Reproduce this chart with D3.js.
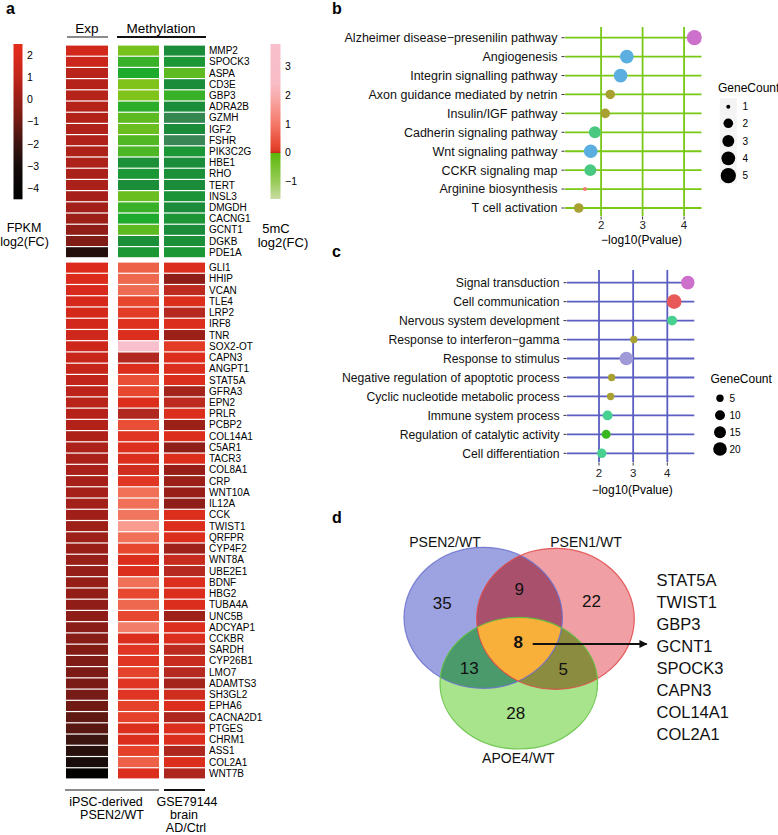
<!DOCTYPE html>
<html>
<head>
<meta charset="utf-8">
<script src="https://cdn.jsdelivr.net/npm/d3@7"></script>
<style>
  body { margin: 0; background: #fff; }
  svg { font-family: "Liberation Sans", Arial, Helvetica, sans-serif; }
</style>
</head>
<body>
<svg id="fig" width="778" height="835"></svg>
<script>
// ---------- panel a : heatmap ----------
var genesUp = ["MMP2","SPOCK3","ASPA","CD3E","GBP3","ADRA2B","GZMH","IGF2","FSHR","PIK3C2G",
  "HBE1","RHO","TERT","INSL3","DMGDH","CACNG1","GCNT1","DGKB","PDE1A"];
var expUp = [1.6,1.4,0.8,0.7,0.75,0.7,0.65,0.6,0.6,0.55,0.5,0.45,0.45,0.35,0.25,0.1,-0.2,-0.6,-2.6];
var methIpscUp = [-0.25,-0.5,-0.6,-0.22,-0.22,-0.55,-0.35,-0.3,-0.4,-0.42,-0.95,-0.85,-0.98,-0.3,-0.5,-0.6,-0.35,-0.95,-0.85];
var methBrainUp = [-1.0,-0.85,-0.35,-1.0,-0.5,-1.0,-1.35,-1.0,-1.42,-0.85,-1.0,-0.95,-1.0,-0.9,-1.0,-0.88,-1.0,-0.95,-0.85];

var genesDown = ["GLI1","HHIP","VCAN","TLE4","LRP2","IRF8","TNR","SOX2-OT","CAPN3","ANGPT1",
  "STAT5A","GFRA3","EPN2","PRLR","PCBP2","COL14A1","C5AR1","TACR3","COL8A1","CRP",
  "WNT10A","IL12A","CCK","TWIST1","QRFPR","CYP4F2","WNT8A","UBE2E1","BDNF","HBG2",
  "TUBA4A","UNC5B","ADCYAP1","CCKBR","SARDH","CYP26B1","LMO7","ADAMTS3","SH3GL2","EPHA6",
  "CACNA2D1","PTGES","CHRM1","ASS1","COL2A1","WNT7B"];
var expDown = [2.0,2.0,1.9,1.8,1.7,1.6,1.5,1.45,1.3,1.2,
  1.0,0.9,0.8,0.7,0.65,0.55,0.5,0.45,0.4,0.35,
  0.3,0.25,0.2,0.15,0.1,0.05,0.0,-0.05,-0.08,-0.12,
  -0.2,-0.25,-0.35,-0.4,-0.5,-0.6,-0.7,-0.75,-0.85,-1.0,
  -1.3,-1.45,-2.0,-2.5,-2.9,-4.3];
var methIpscDown = [1.3,1.4,1.45,0.95,0.8,0.65,0.6,3.2,0.3,0.6,
  1.05,0.95,0.6,0.3,1.05,0.7,0.62,0.6,0.5,0.72,
  1.5,1.5,1.6,2.2,1.5,0.95,0.6,0.6,1.5,0.95,
  1.4,0.95,1.7,0.6,0.7,0.7,0.88,0.7,0.7,0.85,
  0.85,0.6,0.6,0.85,1.3,0.6];
var methBrainDown = [0.6,0.05,0.38,0.6,0.33,0.6,0.15,0.8,0.6,0.6,
  0.6,0.22,0.38,0.6,0.15,0.6,0.05,0.6,0.12,0.15,
  0.12,0.05,0.6,0.6,0.6,0.18,0.45,0.33,0.6,0.6,
  0.6,0.18,0.62,0.6,0.38,0.45,0.33,0.22,0.5,0.6,
  0.28,0.6,0.6,0.28,0.6,0.28];

var expTicks = [2,1,0,-1,-2,-3,-4];
var methTicks = [3,2,1,0,-1];

// ---------- panel b : PANTHER pathways ----------
var pathTerms = ["Alzheimer disease\u2212presenilin pathway","Angiogenesis","Integrin signalling pathway",
  "Axon guidance mediated by netrin","Insulin/IGF pathway","Cadherin signaling pathway",
  "Wnt signaling pathway","CCKR signaling map","Arginine biosynthesis","T cell activation"];
var pathLogP = [4.25,2.62,2.47,2.22,2.1,1.85,1.75,1.74,1.61,1.46];
var pathCount = [5,4,4,2,2,3,4,3,1,2];
var pathCountTicks = [1,2,3,4,5];

// ---------- panel c : GO processes ----------
var goTerms = ["Signal transduction","Cell communication","Nervous system development",
  "Response to interferon\u2212gamma","Response to stimulus","Negative regulation of apoptotic process",
  "Cyclic nucleotide metabolic process","Immune system process","Regulation of catalytic activity",
  "Cell differentiation"];
var goLogP = [4.6,4.2,4.14,3.02,2.8,2.37,2.34,2.25,2.21,2.08];
var goCount = [20,23,10,5,20,5,5,10,8,9];
var goCountTicks = [5,10,15,20];
var pTicks = [2,3,4];

// ---------- panel d : venn ----------
var vennSets = ["PSEN2/WT","PSEN1/WT","APOE4/WT"];
var vennRegions = ["PSEN2","PSEN1","APOE4","PSEN2&PSEN1","PSEN2&APOE4","PSEN1&APOE4","all"];
var vennCounts = [35,22,28,9,13,5,8];
var sharedGenes = ["STAT5A","TWIST1","GBP3","GCNT1","SPOCK3","CAPN3","COL14A1","COL2A1"];

// styles
var pathColors = ["#cc70cc","#5aaee0","#5aaee0","#a8a030","#a8a030","#48c880","#5aaee0","#48c880","#f87878","#a8a030"];
var goColors = ["#cc70cc","#e85858","#48d090","#a8a030","#a09ad8","#a8a030","#a8a030","#48d090","#38b820","#48d090"];

var svg = d3.select("#fig");
var defs = svg.append("defs");

function panelLabel(txt, x, y) {
  svg.append("text").attr("x", x).attr("y", y).attr("font-size", 16)
    .attr("font-weight", "bold").text(txt);
}

// ================= PANEL A =================
panelLabel("a", 6, 14);

var expColor = d3.scaleLinear()
  .domain([-4.49,-3,-2,-1,0,1,2,2.5])
  .range(["#000000","#140c0a","#3c1410","#701a14","#981e18","#c0241a","#dc2a1c","#e42c1c"]);
var methColor = d3.scaleLinear()
  .domain([-1.45,-1.0,-0.6,-0.2,-0.001,0,0.15,0.3,0.45,0.6,1.0,1.5,2.2,3.2])
  .range(["#3c8656","#1a8c3a","#1eaa2c","#84c41a","#84c41a","#8a1c18","#9a2018","#b02820",
          "#c82c1e","#dc2e1c","#e84a32","#f07058","#f89c90","#f8c0cc"]);

var cols = [
  {key: "exp", x0: 66, x1: 108, color: expColor},
  {key: "ipsc", x0: 118, x1: 159, color: methColor},
  {key: "brain", x0: 164, x1: 205, color: methColor}
];

function heatBlock(genes, vals, y0, y1) {
  var y = d3.scaleBand().domain(genes).range([y0, y1]);
  var g = svg.append("g");
  cols.forEach(function (c, ci) {
    g.selectAll(null).data(genes).enter().append("rect")
      .attr("x", c.x0).attr("width", c.x1 - c.x0)
      .attr("y", function (d) { return y(d) + 0.6; })
      .attr("height", y.bandwidth() - 1.2)
      .attr("fill", function (d, i) { return c.color(vals[ci][i]); });
  });
  g.selectAll(null).data(genes).enter().append("text")
    .attr("x", 209).attr("y", function (d) { return y(d) + y.bandwidth() / 2; })
    .attr("dy", "0.35em").attr("font-size", 10).text(function (d) { return d; });
}
heatBlock(genesUp, [expUp, methIpscUp, methBrainUp], 45, 257.8);
heatBlock(genesDown, [expDown, methIpscDown, methBrainDown], 262, 779);

// headers
svg.append("text").attr("x", 87).attr("y", 28).attr("dy", "0.35em").attr("text-anchor", "middle")
  .attr("font-size", 13.5).text("Exp");
svg.append("text").attr("x", 161).attr("y", 28).attr("dy", "0.35em").attr("text-anchor", "middle")
  .attr("font-size", 13.5).text("Methylation");
svg.append("line").attr("x1", 67).attr("x2", 108).attr("y1", 37).attr("y2", 37)
  .attr("stroke", "#8a8a8a").attr("stroke-width", 2);
svg.append("line").attr("x1", 117).attr("x2", 206).attr("y1", 37).attr("y2", 37)
  .attr("stroke", "#111").attr("stroke-width", 2);

// footers
svg.append("line").attr("x1", 65).attr("x2", 159).attr("y1", 790).attr("y2", 790)
  .attr("stroke", "#8a8a8a").attr("stroke-width", 2);
svg.append("line").attr("x1", 164).attr("x2", 205).attr("y1", 790).attr("y2", 790)
  .attr("stroke", "#111").attr("stroke-width", 2);
[["iPSC-derived", 106, 801.5], ["PSEN2/WT", 112, 815], ["GSE79144", 187, 801.5], ["brain", 184, 815], ["AD/Ctrl", 186, 827.5]]
  .forEach(function (t) {
    svg.append("text").attr("x", t[1]).attr("y", t[2]).attr("dy", "0.35em").attr("text-anchor", "middle")
      .attr("font-size", 12.5).text(t[0]);
  });

// legends
var expLegY = d3.scaleLinear().domain([2.5, -4.49]).range([44, 199.3]);
var gExp = defs.append("linearGradient").attr("id", "gradExp").attr("x1", 0).attr("x2", 0).attr("y1", 0).attr("y2", 1);
d3.range(0, 1.0001, 0.05).forEach(function (t) {
  gExp.append("stop").attr("offset", t).attr("stop-color", expColor(expLegY.invert(44 + t * (199.3 - 44))));
});
svg.append("rect").attr("x", 13.5).attr("y", 44).attr("width", 9).attr("height", 155.3).attr("fill", "url(#gradExp)");
svg.selectAll(null).data(expTicks).enter().append("text")
  .attr("x", 27).attr("y", function (d) { return expLegY(d); }).attr("dy", "0.35em")
  .attr("font-size", 10.5).text(d3.format("d"));
svg.append("text").attr("x", 24).attr("y", 228).attr("dy", "0.35em").attr("text-anchor", "middle").attr("font-size", 12.5).text("FPKM");
svg.append("text").attr("x", 24.5).attr("y", 242).attr("dy", "0.35em").attr("text-anchor", "middle").attr("font-size", 12.5).text("log2(FC)");

var methLegY = d3.scaleLinear().domain([3.79, -1.61]).range([44, 199]);
var methLegStops = [[3.79,"#f8c0cc"],[2.4,"#f8bcc6"],[2,"#f8aeae"],[1,"#f47868"],[0.3,"#e84a36"],
  [0.06,"#d83a24"],[0.0,"#c02818"],[-0.02,"#5cb80c"],[-1,"#98cc58"],[-1.61,"#cadca4"]];
var gMeth = defs.append("linearGradient").attr("id", "gradMeth").attr("x1", 0).attr("x2", 0).attr("y1", 0).attr("y2", 1);
methLegStops.forEach(function (s) {
  gMeth.append("stop").attr("offset", (methLegY(s[0]) - 44) / 155).attr("stop-color", s[1]);
});
svg.append("rect").attr("x", 270.5).attr("y", 44).attr("width", 10).attr("height", 155).attr("fill", "url(#gradMeth)");
svg.selectAll(null).data(methTicks).enter().append("text")
  .attr("x", 285).attr("y", function (d) { return methLegY(d); }).attr("dy", "0.35em")
  .attr("font-size", 10.5).text(d3.format("d"));
svg.append("text").attr("x", 276).attr("y", 228).attr("dy", "0.35em").attr("text-anchor", "middle").attr("font-size", 13).text("5mC");
svg.append("text").attr("x", 283).attr("y", 242).attr("dy", "0.35em").attr("text-anchor", "middle").attr("font-size", 13).text("log2(FC)");

// ================= PANELS B & C =================
function dotPanel(cfg) {
  var x = d3.scaleLinear().domain(cfg.xDomain).range([cfg.x0, cfg.x1]);
  var y = d3.scalePoint().domain(cfg.terms).range([cfg.y0, cfg.y1]);
  var g = svg.append("g");
  var clipId = "clip" + cfg.name;
  defs.append("clipPath").attr("id", clipId).append("rect")
    .attr("x", cfg.x0).attr("y", cfg.top).attr("width", cfg.x1 - cfg.x0).attr("height", cfg.bottom - cfg.top);

  g.selectAll(null).data(cfg.terms).enter().append("line")
    .attr("x1", cfg.x0).attr("x2", cfg.x1)
    .attr("y1", function (d) { return y(d); }).attr("y2", function (d) { return y(d); })
    .attr("stroke", cfg.lineColor).attr("stroke-width", 1.8);
  g.selectAll(null).data(cfg.ticks).enter().append("line")
    .attr("x1", function (d) { return x(d); }).attr("x2", function (d) { return x(d); })
    .attr("y1", cfg.top).attr("y2", cfg.bottom)
    .attr("stroke", cfg.lineColor).attr("stroke-width", 1.8);
  // axis ticks
  g.selectAll(null).data(cfg.terms).enter().append("line")
    .attr("x1", cfg.x0 - 3.5).attr("x2", cfg.x0 - 0.5)
    .attr("y1", function (d) { return y(d); }).attr("y2", function (d) { return y(d); })
    .attr("stroke", "#333").attr("stroke-width", 1);
  g.selectAll(null).data(cfg.ticks).enter().append("line")
    .attr("x1", function (d) { return x(d); }).attr("x2", function (d) { return x(d); })
    .attr("y1", cfg.bottom + 0.5).attr("y2", cfg.bottom + 3.5)
    .attr("stroke", "#333").attr("stroke-width", 1);
  g.selectAll(null).data(cfg.terms).enter().append("text")
    .attr("x", cfg.x0 - 7.5).attr("y", function (d) { return y(d); }).attr("dy", "0.35em")
    .attr("text-anchor", "end").attr("font-size", cfg.labelSize).attr("fill", "#111").text(function (d) { return d; });
  g.selectAll(null).data(cfg.ticks).enter().append("text")
    .attr("x", function (d) { return x(d); }).attr("y", cfg.tickY).attr("dy", "0.35em")
    .attr("text-anchor", "middle").attr("font-size", 11.5).attr("fill", "#222").text(function (d) { return d; });
  g.append("text").attr("x", (x(2) + x(4)) / 2 - 1).attr("y", cfg.titleY).attr("dy", "0.35em")
    .attr("text-anchor", "middle").attr("font-size", 12).text("\u2212log10(Pvalue)");

  g.append("g").attr("clip-path", "url(#" + clipId + ")")
    .selectAll("circle").data(cfg.terms).enter().append("circle")
    .attr("cx", function (d, i) { return x(cfg.logP[i]); })
    .attr("cy", function (d) { return y(d); })
    .attr("r", function (d, i) { return cfg.size(cfg.count[i]); })
    .attr("fill", function (d, i) { return cfg.colors[i]; });

  // size legend
  g.append("text").attr("x", cfg.legX).attr("y", cfg.legTitleY).attr("dy", "0.35em")
    .attr("font-size", 12).text("GeneCount");
  var keys = g.selectAll(null).data(cfg.countTicks).enter().append("g");
  if (cfg.keyBg) {
    keys.append("rect").attr("x", cfg.keyX - 8.5).attr("y", function (d, i) { return cfg.keyY[i] - 8.5; })
      .attr("width", 17).attr("height", 17).attr("fill", "#f4f4f4");
  }
  keys.append("circle").attr("cx", cfg.keyX).attr("cy", function (d, i) { return cfg.keyY[i]; })
    .attr("r", function (d) { return cfg.size(d); }).attr("fill", "#000");
  keys.append("text").attr("x", cfg.keyLabelX).attr("y", function (d, i) { return cfg.keyY[i]; })
    .attr("dy", "0.35em").attr("font-size", 10).text(function (d) { return d; });
}

panelLabel("b", 332, 14);
var sizeB = d3.scaleSqrt().domain([0, 4]).range([0, 5.6]);
dotPanel({
  name: "B", terms: pathTerms, logP: pathLogP, count: pathCount, colors: pathColors,
  xDomain: [1.13, 4.42], x0: 565, x1: 701.5, y0: 37.7, y1: 208, top: 27, bottom: 216,
  ticks: pTicks, tickY: 225, titleY: 240, lineColor: "#78c814", labelSize: 12.5,
  size: function (v) { return 2 + sizeB(v - 1); },
  legX: 718, legTitleY: 88, keyX: 728.3, keyY: [106.7, 123.3, 141, 158.3, 175.7], keyLabelX: 742.5,
  countTicks: pathCountTicks, keyBg: true
});

panelLabel("c", 332, 257);
var sizeC = d3.scaleRadial().domain([5, 23]).range([3.7, 7.3]);
dotPanel({
  name: "C", terms: goTerms, logP: goLogP, count: goCount, colors: goColors,
  xDomain: [1.063, 4.79], x0: 567, x1: 694.3, y0: 282.7, y1: 453.3, top: 270, bottom: 462,
  ticks: pTicks, tickY: 473, titleY: 490, lineColor: "#5a5ec0", labelSize: 12.2,
  size: sizeC,
  legX: 710.5, legTitleY: 379, keyX: 720, keyY: [398.3, 415.3, 432.3, 449], keyLabelX: 729.5,
  countTicks: goCountTicks, keyBg: false
});

// ================= PANEL D =================
panelLabel("d", 332, 523);
var ell = [
  {cx: 483.2, cy: 617.8, rx: 79.2, ry: 70.5, fill: "#9da3e0", stroke: "#6a70cc"},
  {cx: 555.5, cy: 618.8, rx: 78.8, ry: 70.5, fill: "#f0a0a4", stroke: "#e04848"},
  {cx: 518.8, cy: 683.2, rx: 78.8, ry: 65.8, fill: "#a8e48c", stroke: "#60c040"}
];
function addEll(sel, e) {
  return sel.append("ellipse").attr("cx", e.cx).attr("cy", e.cy).attr("rx", e.rx).attr("ry", e.ry);
}
ell.forEach(function (e, i) { addEll(defs.append("clipPath").attr("id", "ve" + i), e); });
var gv = svg.append("g");
ell.forEach(function (e) { addEll(gv, e).attr("fill", e.fill); });
addEll(gv.append("g").attr("clip-path", "url(#ve0)"), ell[1]).attr("fill", "#a8506c");
addEll(gv.append("g").attr("clip-path", "url(#ve0)"), ell[2]).attr("fill", "#4a9a6c");
addEll(gv.append("g").attr("clip-path", "url(#ve1)"), ell[2]).attr("fill", "#8c8c40");
addEll(gv.append("g").attr("clip-path", "url(#ve0)").append("g").attr("clip-path", "url(#ve1)"), ell[2])
  .attr("fill", "#f8b03a");
ell.forEach(function (e) {
  addEll(gv, e).attr("fill", "none").attr("stroke", e.stroke).attr("stroke-width", 1.2).attr("stroke-opacity", 0.85);
});

// region label anchors (offsets from ellipse centres)
var regionPos = [
  [ell[0].cx - 41, ell[0].cy - 15], [ell[1].cx + 36, ell[1].cy - 18], [ell[2].cx - 3, ell[2].cy + 30],
  [519.3, 589.3], [469.3, 667.7], [563.3, 669.3], [518.3, 641.7]
];
gv.selectAll("text.cnt").data(vennCounts).enter().append("text").attr("class", "cnt")
  .attr("x", function (d, i) { return regionPos[i][0]; })
  .attr("y", function (d, i) { return regionPos[i][1]; })
  .attr("dy", "0.35em").attr("text-anchor", "middle").attr("font-size", 17)
  .attr("font-weight", function (d, i) { return vennRegions[i] === "all" ? "bold" : "normal"; })
  .attr("fill", "#111").text(function (d) { return d; });

var setLabelPos = [[445, 542.5], [586, 542.5], [518.3, 757.7]];
gv.selectAll("text.set").data(vennSets).enter().append("text").attr("class", "set")
  .attr("x", function (d, i) { return setLabelPos[i][0]; })
  .attr("y", function (d, i) { return setLabelPos[i][1]; })
  .attr("dy", "0.35em").attr("text-anchor", "middle").attr("font-size", 14).attr("fill", "#111")
  .text(function (d) { return d; });

defs.append("marker").attr("id", "arrow").attr("viewBox", "0 0 10 10").attr("refX", 9).attr("refY", 5)
  .attr("markerWidth", 4.5).attr("markerHeight", 4.5).attr("orient", "auto")
  .append("path").attr("d", "M0,0 L10,5 L0,10 z").attr("fill", "#111");
svg.append("line").attr("x1", 532.7).attr("x2", 646.7).attr("y1", 644).attr("y2", 644)
  .attr("stroke", "#111").attr("stroke-width", 1.8).attr("marker-end", "url(#arrow)");

var geneY = d3.scalePoint().domain(sharedGenes).range([580, 734.3]);
svg.selectAll("text.shared").data(sharedGenes).enter().append("text").attr("class", "shared")
  .attr("x", 656.5).attr("y", function (d) { return geneY(d); }).attr("dy", "0.35em")
  .attr("font-size", 16.5).attr("fill", "#111").text(function (d) { return d; });
</script>
</body>
</html>
